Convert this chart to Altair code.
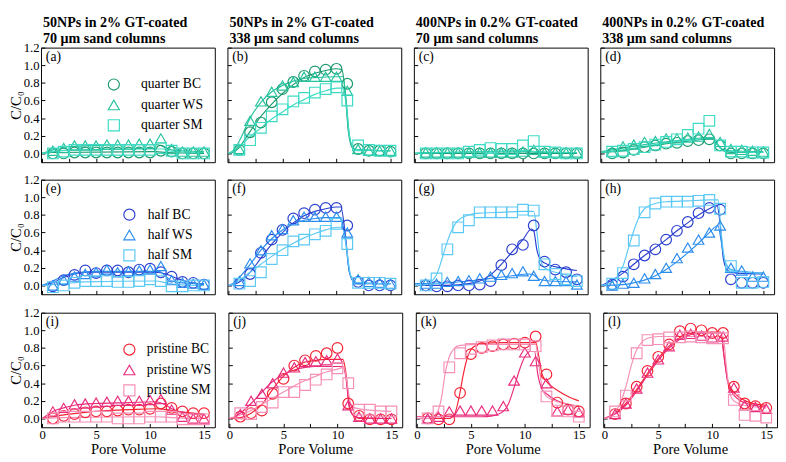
import altair as alt
import pandas as pd

# ---------------- data ----------------
PV = [1, 2, 3, 4, 5, 6, 7, 8, 9, 10, 11, 12, 13, 14, 15]
SERIES = ["BC", "WS", "SM"]
ROW_NAMES = ["quarter", "half", "pristine"]
ROW_COLORS = [
    ["#1b9a6e", "#27c39e", "#3ddbc4"],
    ["#2b40d0", "#2b8def", "#5cc9f5"],
    ["#f52334", "#ea2c7d", "#f690b6"],
]
TITLES = [
    ["50NPs in 2% GT-coated", "70 μm sand columns"],
    ["50NPs in 2% GT-coated", "338 μm sand columns"],
    ["400NPs in 0.2% GT-coated", "70 μm sand columns"],
    ["400NPs in 0.2% GT-coated", "338 μm sand columns"],
]
LETTERS = ["a", "b", "c", "d", "e", "f", "g", "h", "i", "j", "k", "l"]
Y_TICKS = [0.0, 0.2, 0.4, 0.6, 0.8, 1.0, 1.2]
X_LABELS = [0, 5, 10, 15]
X_TICKS = [0, 2.5, 5, 7.5, 10, 12.5, 15]

# (a) quarter, 70 um, 50NPs
A_BC = [0.0, 0.0, 0.01, 0.01, 0.01, 0.01, 0.01, 0.01, 0.01, 0.01, 0.03, 0.02, 0.0, 0.0, 0.0]
A_WS = [0.03, 0.06, 0.09, 0.09, 0.09, 0.10, 0.10, 0.10, 0.11, 0.11, 0.17, 0.05, 0.02, 0.02, 0.02]
A_SM = [0.0, 0.02, 0.04, 0.04, 0.04, 0.04, 0.04, 0.04, 0.04, 0.04, 0.06, 0.03, 0.0, 0.0, 0.0]
A_BC_FIT = [(0, 0), (1, 0.01), (10.5, 0.02), (11.5, 0.01), (15, 0.0)]
A_WS_FIT = [(0, 0), (0.5, 0.02), (1, 0.04), (2, 0.07), (3, 0.08), (5, 0.09), (8, 0.1), (10.5, 0.1), (11, 0.09), (11.5, 0.06), (12, 0.04), (13, 0.03), (15, 0.02)]
A_SM_FIT = [(0, 0), (1, 0.02), (3, 0.04), (10.5, 0.05), (11.2, 0.05), (11.7, 0.03), (12.5, 0.02), (15, 0.01)]

# (b) quarter, 338 um, 50NPs
B_BC = [0.04, 0.24, 0.35, 0.58, 0.73, 0.81, 0.88, 0.93, 0.95, 0.96, 0.79, 0.05, 0.03, 0.03, 0.02]
B_WS = [0.05, 0.37, 0.59, 0.70, 0.77, 0.81, 0.87, 0.87, 0.87, 0.87, 0.71, 0.05, 0.03, 0.03, 0.03]
B_SM = [0.04, 0.15, 0.29, 0.42, 0.50, 0.59, 0.63, 0.69, 0.73, 0.75, 0.60, 0.09, 0.04, 0.03, 0.03]
B_BC_FIT = [(0, 0), (0.5, 0.02), (1, 0.07), (2, 0.25), (3, 0.42), (4, 0.56), (5, 0.68), (6, 0.78), (7, 0.86), (8, 0.91), (9, 0.94), (10, 0.96), (10.5, 0.95), (10.8, 0.7), (11.1, 0.25), (11.5, 0.06), (12, 0.04), (15, 0.03)]
B_WS_FIT = [(0, 0), (0.5, 0.04), (1, 0.14), (2, 0.4), (3, 0.58), (4, 0.7), (5, 0.77), (6, 0.82), (7, 0.85), (8, 0.86), (10, 0.87), (10.6, 0.87), (10.9, 0.6), (11.2, 0.2), (11.6, 0.05), (12, 0.04), (15, 0.03)]
B_SM_FIT = [(0, 0), (0.5, 0.03), (1, 0.08), (2, 0.19), (3, 0.29), (4, 0.39), (5, 0.47), (6, 0.55), (7, 0.61), (8, 0.67), (9, 0.71), (10, 0.74), (10.6, 0.74), (10.9, 0.55), (11.2, 0.2), (11.6, 0.06), (12, 0.04), (15, 0.03)]

# (c) quarter, 70 um, 400NPs
C_BC = [0.0, 0.0, 0.0, 0.0, 0.0, 0.0, 0.0, 0.0, 0.0, 0.0, 0.0, 0.0, 0.0, 0.0, 0.0]
C_WS = [0.01, 0.01, 0.01, 0.01, 0.01, 0.01, 0.01, 0.01, 0.01, 0.02, 0.04, 0.01, 0.01, 0.01, 0.01]
C_SM = [0.0, 0.0, 0.0, 0.0, 0.02, 0.04, 0.06, 0.05, 0.05, 0.09, 0.14, 0.02, 0.01, 0.0, 0.0]
C_BC_FIT = [(0, 0), (15, 0)]
C_WS_FIT = [(0, 0), (1, 0.01), (10.5, 0.02), (11.5, 0.01), (15, 0.01)]
C_SM_FIT = [(0, 0), (3, 0.01), (10.5, 0.03), (11.5, 0.02), (15, 0.01)]

# (d) quarter, 338 um, 400NPs
D_BC = [0.0, 0.01, 0.04, 0.07, 0.09, 0.11, 0.12, 0.14, 0.15, 0.16, 0.09, 0.0, 0.0, 0.0, 0.0]
D_WS = [0.02, 0.08, 0.10, 0.13, 0.14, 0.17, 0.17, 0.18, 0.19, 0.22, 0.13, 0.05, 0.04, 0.03, 0.02]
D_SM = [0.02, 0.03, 0.05, 0.07, 0.10, 0.13, 0.16, 0.21, 0.28, 0.37, 0.09, 0.02, 0.02, 0.01, 0.01]
D_BC_FIT = [(0, 0.01), (2, 0.03), (4, 0.07), (6, 0.11), (8, 0.14), (10, 0.16), (10.3, 0.16), (10.8, 0.09), (11.3, 0.03), (12, 0.01), (15, 0.01)]
D_WS_FIT = [(0, 0.02), (2, 0.06), (4, 0.1), (6, 0.13), (8, 0.16), (10, 0.18), (10.3, 0.18), (10.8, 0.1), (11.3, 0.04), (12, 0.03), (15, 0.02)]
D_SM_FIT = [(0, 0.01), (2, 0.04), (4, 0.08), (6, 0.12), (8, 0.15), (10, 0.17), (10.3, 0.17), (10.8, 0.09), (11.3, 0.03), (12, 0.02), (15, 0.01)]

# (e) half, 70 um, 50NPs
E_BC = [-0.01, 0.06, 0.12, 0.17, 0.14, 0.17, 0.17, 0.15, 0.18, 0.19, 0.15, 0.10, 0.04, 0.03, 0.01]
E_WS = [0.0, 0.06, 0.10, 0.13, 0.15, 0.18, 0.15, 0.16, 0.17, 0.18, 0.22, 0.06, 0.03, 0.02, 0.01]
E_SM = [-0.02, 0.0, 0.03, 0.05, 0.05, 0.05, 0.04, 0.04, 0.05, 0.07, 0.05, -0.01, -0.01, 0.0, 0.0]
E_BC_FIT = [(0, 0), (1, 0.03), (2, 0.09), (3, 0.13), (4, 0.15), (6, 0.15), (9, 0.15), (10.5, 0.15), (11.5, 0.13), (12.5, 0.08), (13.5, 0.04), (15, 0.01)]
E_WS_FIT = [(0, 0), (1, 0.05), (2, 0.11), (3, 0.14), (5, 0.16), (10, 0.16), (10.8, 0.16), (11.5, 0.1), (12, 0.05), (13, 0.03), (15, 0.02)]
E_SM_FIT = [(0, 0), (2, 0.02), (4, 0.04), (10.5, 0.05), (11.5, 0.03), (12.5, 0.01), (15, 0.0)]

# (f) half, 338 um, 50NPs
F_BC = [0.02, 0.13, 0.37, 0.52, 0.63, 0.76, 0.82, 0.86, 0.88, 0.88, 0.68, 0.04, 0.0, 0.0, 0.0]
F_WS = [0.05, 0.25, 0.40, 0.57, 0.64, 0.74, 0.78, 0.78, 0.78, 0.78, 0.60, 0.07, 0.04, 0.03, 0.02]
F_SM = [0.02, 0.05, 0.15, 0.30, 0.40, 0.50, 0.52, 0.58, 0.62, 0.70, 0.47, 0.03, 0.03, 0.03, 0.02]
F_BC_FIT = [(0, 0), (0.5, 0.01), (1, 0.04), (2, 0.15), (3, 0.31), (4, 0.47), (5, 0.6), (6, 0.71), (7, 0.79), (8, 0.84), (9, 0.87), (10, 0.89), (10.4, 0.89), (10.8, 0.6), (11.2, 0.15), (11.6, 0.04), (12, 0.02), (15, 0.02)]
F_WS_FIT = [(0, 0), (0.5, 0.03), (1, 0.09), (2, 0.24), (3, 0.4), (4, 0.53), (5, 0.63), (6, 0.7), (7, 0.74), (8, 0.76), (9, 0.77), (10.4, 0.77), (10.8, 0.55), (11.2, 0.15), (11.6, 0.05), (12, 0.03), (15, 0.02)]
F_SM_FIT = [(0, 0), (0.5, 0.02), (1, 0.06), (2, 0.15), (3, 0.24), (4, 0.33), (5, 0.41), (6, 0.48), (7, 0.54), (8, 0.59), (9, 0.63), (10, 0.66), (10.5, 0.66), (10.9, 0.45), (11.3, 0.12), (11.7, 0.04), (12, 0.03), (15, 0.02)]

# (g) half, 70 um, 400NPs
G_BC = [0.0, -0.01, -0.01, 0.0, 0.0, 0.01, 0.05, 0.23, 0.41, 0.46, 0.68, 0.27, 0.18, 0.15, 0.07]
G_WS = [0.02, 0.02, 0.04, 0.05, 0.06, 0.08, 0.10, 0.12, 0.14, 0.16, 0.11, 0.05, 0.05, 0.05, 0.01]
G_SM = [0.0, 0.08, 0.41, 0.66, 0.74, 0.83, 0.83, 0.83, 0.83, 0.86, 0.85, 0.24, 0.13, 0.07, 0.05]
G_BC_FIT = [(0, 0), (3, 0.0), (5, 0.02), (6, 0.05), (7, 0.12), (8, 0.24), (9, 0.38), (10, 0.52), (10.8, 0.64), (11, 0.62), (11.3, 0.4), (11.7, 0.28), (12.5, 0.23), (13.5, 0.2), (15, 0.17)]
G_WS_FIT = [(0, 0.02), (3, 0.03), (5, 0.05), (7, 0.08), (9, 0.11), (10.5, 0.13), (11, 0.12), (11.5, 0.07), (12.5, 0.05), (15, 0.04)]
G_SM_FIT = [(0, 0), (1, 0.01), (1.5, 0.04), (2, 0.12), (2.5, 0.3), (3, 0.5), (3.5, 0.65), (4, 0.74), (5, 0.8), (6, 0.82), (8, 0.83), (10, 0.84), (11, 0.84), (11.3, 0.6), (11.6, 0.3), (12, 0.2), (13, 0.15), (14, 0.12), (15, 0.1)]

# (h) half, 338 um, 400NPs
H_BC = [0.01, 0.10, 0.24, 0.34, 0.41, 0.52, 0.62, 0.72, 0.82, 0.88, 0.86, 0.07, 0.03, 0.03, 0.03]
H_WS = [0.0, 0.02, 0.03, 0.08, 0.13, 0.20, 0.31, 0.43, 0.52, 0.60, 0.68, 0.20, 0.17, 0.10, 0.10]
H_SM = [0.02, 0.14, 0.51, 0.83, 0.93, 0.95, 0.95, 0.95, 0.96, 0.97, 0.87, 0.22, 0.03, 0.03, 0.04]
H_BC_FIT = [(0, 0), (1, 0.06), (2, 0.14), (3, 0.24), (4, 0.34), (5, 0.43), (6, 0.52), (7, 0.62), (8, 0.71), (9, 0.8), (10, 0.87), (10.7, 0.91), (11, 0.7), (11.3, 0.3), (11.7, 0.17), (12.5, 0.14), (15, 0.13)]
H_WS_FIT = [(0, 0), (2, 0.01), (3, 0.03), (4, 0.06), (5, 0.11), (6, 0.18), (7, 0.27), (8, 0.37), (9, 0.48), (10, 0.6), (10.8, 0.68), (11.1, 0.5), (11.5, 0.25), (12, 0.18), (13, 0.16), (15, 0.14)]
H_SM_FIT = [(0, 0), (0.5, 0.01), (1, 0.04), (1.5, 0.1), (2, 0.22), (2.5, 0.42), (3, 0.62), (3.5, 0.78), (4, 0.87), (5, 0.93), (6, 0.95), (8, 0.96), (10, 0.97), (10.8, 0.97), (11.1, 0.6), (11.4, 0.3), (11.8, 0.2), (12.5, 0.16), (15, 0.14)]

# (i) pristine, 70 um, 50NPs
I_BC = [0.0, 0.03, 0.05, 0.07, 0.08, 0.08, 0.09, 0.10, 0.10, 0.11, 0.17, 0.12, 0.08, 0.06, 0.06]
I_WS = [0.08, 0.12, 0.16, 0.17, 0.18, 0.19, 0.20, 0.20, 0.20, 0.21, 0.22, 0.10, 0.02, 0.0, 0.0]
I_SM = [0.0, 0.02, 0.02, 0.02, 0.02, 0.02, 0.0, 0.0, 0.0, 0.02, 0.02, 0.02, -0.01, -0.01, -0.01]
I_BC_FIT = [(0, 0), (1, 0.02), (2, 0.04), (4, 0.07), (6, 0.09), (8, 0.1), (10.5, 0.11), (11.5, 0.1), (12.5, 0.08), (14, 0.06), (15, 0.05)]
I_WS_FIT = [(0, 0), (0.5, 0.04), (1, 0.08), (2, 0.12), (3, 0.15), (5, 0.17), (8, 0.18), (10.5, 0.19), (11.5, 0.15), (12, 0.11), (13, 0.07), (14, 0.05), (15, 0.04)]
I_SM_FIT = [(0, 0), (2, 0.01), (10.5, 0.02), (12, 0.01), (15, 0.0)]

# (j) pristine, 338 um, 50NPs
J_BC = [0.02, 0.06, 0.09, 0.28, 0.45, 0.60, 0.66, 0.71, 0.74, 0.80, 0.17, 0.03, -0.01, -0.01, -0.01]
J_WS = [0.05, 0.20, 0.28, 0.40, 0.52, 0.58, 0.64, 0.65, 0.66, 0.68, 0.15, 0.02, 0.0, 0.0, 0.0]
J_SM = [0.06, 0.05, 0.13, 0.18, 0.30, 0.30, 0.38, 0.44, 0.50, 0.57, 0.40, 0.10, 0.10, 0.08, 0.08]
J_BC_FIT = [(0, 0), (1, 0.01), (2, 0.06), (3, 0.16), (4, 0.33), (5, 0.48), (6, 0.58), (7, 0.64), (8, 0.66), (9, 0.67), (10.5, 0.67), (10.8, 0.5), (11.1, 0.15), (11.5, 0.03), (12, 0.0), (15, 0.0)]
J_WS_FIT = [(0, 0), (0.5, 0.02), (1, 0.06), (2, 0.17), (3, 0.3), (4, 0.42), (5, 0.5), (6, 0.55), (7, 0.58), (8, 0.59), (10.5, 0.59), (10.8, 0.45), (11.1, 0.12), (11.5, 0.03), (12, 0.01), (15, 0.0)]
J_SM_FIT = [(0, 0), (1, 0.04), (2, 0.09), (3, 0.16), (4, 0.23), (5, 0.3), (6, 0.37), (7, 0.43), (8, 0.48), (9, 0.53), (10, 0.56), (10.6, 0.58), (10.9, 0.4), (11.2, 0.18), (11.6, 0.12), (12.5, 0.1), (15, 0.08)]

# (k) pristine, 70 um, 400NPs
K_BC = [0.0, -0.01, -0.01, 0.29, 0.73, 0.80, 0.82, 0.84, 0.85, 0.86, 0.93, 0.50, 0.18, 0.10, 0.08]
K_WS = [0.0, 0.02, 0.08, 0.09, 0.09, 0.09, 0.09, 0.14, 0.43, 0.75, 0.65, 0.40, 0.08, 0.10, 0.07]
K_SM = [0.0, 0.08, 0.58, 0.74, 0.79, 0.81, 0.83, 0.84, 0.84, 0.84, 0.82, 0.25, 0.09, 0.08, 0.02]
K_BC_FIT = [(0, 0), (3, 0.0), (3.5, 0.05), (4, 0.3), (4.3, 0.5), (4.7, 0.7), (5, 0.78), (5.5, 0.83), (6, 0.85), (8, 0.86), (11, 0.86), (11.3, 0.7), (11.6, 0.5), (12, 0.42), (13, 0.32), (14, 0.25), (15, 0.2)]
K_WS_FIT = [(0, 0.02), (6, 0.02), (7, 0.03), (8, 0.08), (8.5, 0.17), (9, 0.35), (9.5, 0.55), (10, 0.7), (10.5, 0.76), (10.9, 0.76), (11.2, 0.5), (11.6, 0.33), (12, 0.28), (13, 0.2), (14, 0.16), (15, 0.14)]
K_SM_FIT = [(0, 0), (1, 0.0), (1.5, 0.02), (2, 0.1), (2.3, 0.25), (2.6, 0.5), (3, 0.7), (3.5, 0.8), (4, 0.83), (6, 0.84), (11, 0.84), (11.3, 0.6), (11.6, 0.35), (12, 0.25), (13, 0.19), (14, 0.16), (15, 0.14)]

# (l) pristine, 338 um, 400NPs
L_BC = [0.05, 0.17, 0.36, 0.54, 0.70, 0.84, 0.99, 1.02, 1.00, 0.97, 0.97, 0.36, 0.17, 0.14, 0.12]
L_WS = [0.05, 0.17, 0.34, 0.52, 0.67, 0.82, 0.95, 0.96, 0.94, 0.92, 0.93, 0.35, 0.15, 0.13, 0.11]
L_SM = [0.08, 0.26, 0.74, 0.89, 0.90, 0.92, 0.92, 0.93, 0.92, 0.91, 0.91, 0.21, 0.04, 0.03, 0.01]
L_BC_FIT = [(0, 0), (1, 0.06), (2, 0.17), (3, 0.33), (4, 0.51), (5, 0.68), (6, 0.82), (7, 0.92), (8, 0.97), (9, 0.98), (10.8, 0.98), (11.1, 0.7), (11.4, 0.45), (11.8, 0.33), (12.5, 0.24), (13.5, 0.18), (15, 0.15)]
L_WS_FIT = [(0, 0), (1, 0.05), (2, 0.15), (3, 0.31), (4, 0.49), (5, 0.66), (6, 0.8), (7, 0.9), (8, 0.95), (9, 0.97), (10.8, 0.97), (11.1, 0.7), (11.4, 0.43), (11.8, 0.3), (12.5, 0.21), (13.5, 0.16), (15, 0.13)]
L_SM_FIT = [(0, 0), (0.5, 0.02), (1, 0.07), (1.5, 0.18), (2, 0.36), (2.5, 0.6), (3, 0.78), (3.5, 0.87), (4, 0.91), (5, 0.93), (11, 0.93), (11.3, 0.6), (11.6, 0.3), (12, 0.2), (13, 0.15), (15, 0.12)]

POINTS = [
    [A_BC, A_WS, A_SM], [B_BC, B_WS, B_SM], [C_BC, C_WS, C_SM], [D_BC, D_WS, D_SM],
    [E_BC, E_WS, E_SM], [F_BC, F_WS, F_SM], [G_BC, G_WS, G_SM], [H_BC, H_WS, H_SM],
    [I_BC, I_WS, I_SM], [J_BC, J_WS, J_SM], [K_BC, K_WS, K_SM], [L_BC, L_WS, L_SM],
]
FITS = [
    [A_BC_FIT, A_WS_FIT, A_SM_FIT], [B_BC_FIT, B_WS_FIT, B_SM_FIT], [C_BC_FIT, C_WS_FIT, C_SM_FIT], [D_BC_FIT, D_WS_FIT, D_SM_FIT],
    [E_BC_FIT, E_WS_FIT, E_SM_FIT], [F_BC_FIT, F_WS_FIT, F_SM_FIT], [G_BC_FIT, G_WS_FIT, G_SM_FIT], [H_BC_FIT, H_WS_FIT, H_SM_FIT],
    [I_BC_FIT, I_WS_FIT, I_SM_FIT], [J_BC_FIT, J_WS_FIT, J_SM_FIT], [K_BC_FIT, K_WS_FIT, K_SM_FIT], [L_BC_FIT, L_WS_FIT, L_SM_FIT],
]

# ---------------- layout / style ----------------
W = 179
H = 118
FONT = "Liberation Serif"
LEGEND_POS = [(68, 31, 21), (84, 29, 12), (84, 31, 11)]

xs = alt.Scale(domain=[-0.1, 16], nice=False, zero=False)
ys = alt.Scale(domain=[-0.1, 1.2], nice=False, zero=False)


def text_layer(txt, x, y, size, weight="normal", baseline="top"):
    return alt.Chart(alt.Data(values=[{"t": txt}])).mark_text(
        align="left", baseline=baseline, font=FONT, fontSize=size, fontWeight=weight,
        color="black"
    ).encode(x=alt.value(x), y=alt.value(y), text="t:N")


def make_panel(r, c):
    k = r * 4 + c
    labels = [f"{ROW_NAMES[r]} {s}" for s in SERIES]
    pts_rows = []
    for si, vals in enumerate(POINTS[k]):
        for pv, v in zip(PV, vals):
            pts_rows.append({"pv": pv, "c": v, "series": labels[si]})
    fit_rows = []
    for si, fit in enumerate(FITS[k]):
        for x, y in fit:
            fit_rows.append({"x": x, "y": y, "series": labels[si]})
    pts_df = pd.DataFrame(pts_rows)
    fit_df = pd.DataFrame(fit_rows)

    cs = alt.Scale(domain=labels, range=ROW_COLORS[r])
    ss = alt.Scale(domain=labels, range=["circle", "triangle-up", "square"])

    first_col = c == 0
    last_row = r == 2

    if last_row:
        x_axis = alt.Axis(values=X_LABELS, format="d", ticks=False, domain=False, grid=False,
                          title="Pore Volume", labelPadding=2, titlePadding=0)
    else:
        x_axis = None
    if first_col:
        y_axis = alt.Axis(values=Y_TICKS, format=".1f", ticks=False, domain=False, grid=False,
                          title="C/C₀", labelPadding=2, titlePadding=0)
        lx, ly, loff = LEGEND_POS[r]
        legend = alt.Legend(orient="none", legendX=lx, legendY=ly, title=None, padding=0,
                            labelFont=FONT, labelFontSize=14, labelOffset=loff,
                            symbolSize=130, symbolStrokeWidth=1.2, rowPadding=4,
                            labelColor="black")
    else:
        y_axis = None
        legend = None

    tick_x = alt.Axis(orient="top", offset=-H, values=X_TICKS, labels=False, domain=False,
                      grid=False, ticks=True, tickSize=4, title=None, minExtent=0, maxExtent=0)
    tick_y = alt.Axis(orient="right", offset=-W, values=Y_TICKS, labels=False, domain=False,
                      grid=False, ticks=True, tickSize=4, title=None, minExtent=0, maxExtent=0)

    lines = alt.Chart(fit_df).mark_line(strokeWidth=1.2, interpolate="monotone").encode(
        x=alt.X("x:Q", scale=xs, axis=tick_x),
        y=alt.Y("y:Q", scale=ys, axis=tick_y),
        color=alt.Color("series:N", scale=cs, legend=None),
        detail="series:N",
    )
    points = alt.Chart(pts_df).mark_point(filled=False, size=120, strokeWidth=1.2, opacity=1).encode(
        x=alt.X("pv:Q", scale=xs, axis=x_axis),
        y=alt.Y("c:Q", scale=ys, axis=y_axis),
        color=alt.Color("series:N", scale=cs, legend=legend),
        shape=alt.Shape("series:N", scale=ss, legend=legend),
    )
    layers = [lines, points, text_layer(f"({LETTERS[k]})", 5, 3, 14)]
    if r == 0:
        layers.append(text_layer(TITLES[c][0], 2, -32, 14.5, "bold", "top"))
        layers.append(text_layer(TITLES[c][1], 2, -16, 14.5, "bold", "top"))

    return (alt.layer(*layers)
            .resolve_axis(x="independent", y="independent")
            .resolve_scale(color="independent", shape="independent")
            .properties(width=W, height=H))


rows = []
for r in range(3):
    row = alt.hconcat(*[make_panel(r, c) for c in range(4)], spacing=10).resolve_scale(
        color="independent", shape="independent")
    rows.append(row)

chart = alt.vconcat(*rows, spacing=10).resolve_scale(
    color="independent", shape="independent"
).properties(padding=0).configure_view(
    stroke="black", strokeWidth=1
).configure_axis(
    labelFont=FONT, titleFont=FONT, labelFontSize=13, titleFontSize=15,
    titleFontWeight="normal", labelColor="black", titleColor="black", tickColor="black",
    tickWidth=1
)

chart.save("out.html", embed_options={"renderer": "svg", "actions": False})
